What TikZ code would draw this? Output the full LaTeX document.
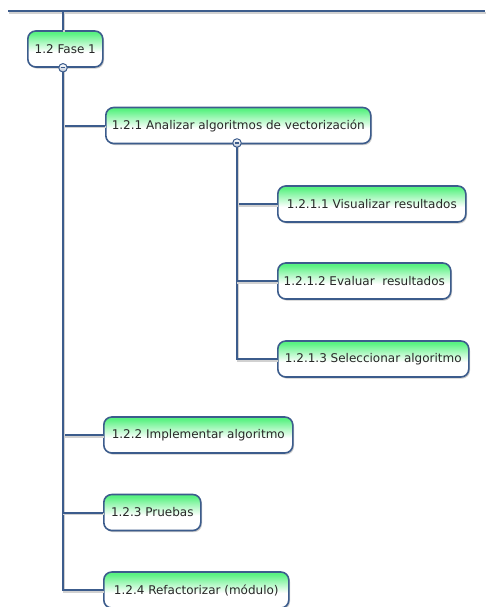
\documentclass[tikz,border=0pt]{standalone}
\usepackage{fontspec}
\setmainfont{DejaVu Sans}
\usetikzlibrary{shadows}
\definecolor{lineblue}{RGB}{60,92,140}
\definecolor{boxgreen}{RGB}{90,242,130}
\definecolor{txt}{RGB}{40,40,40}
\pgfdeclareverticalshading{boxshade}{100bp}{color(0bp)=(white); color(25bp)=(white); color(46bp)=(white); color(72bp)=(boxgreen); color(100bp)=(boxgreen)}
\tikzset{
  wbs/.style={draw=lineblue, line width=1.6pt, rounded corners=8pt, shading=boxshade,
    minimum height=36pt, anchor=west, inner xsep=0pt, font=\fontsize{12}{14}\selectfont, text=txt,
    drop shadow={shadow xshift=1.2pt, shadow yshift=-1.6pt, fill=black!35, opacity=0.6}},
  conn/.style={draw=lineblue, line width=2pt,
    preaction={draw=black!18, line width=2pt, transform canvas={shift={(1pt,-1.8pt)}}}},
  collapse/.style={circle, draw=lineblue, line width=1pt, inner sep=0pt, minimum size=8.5pt,
    top color=white, bottom color=lineblue!35},
}
\begin{document}
\begin{tikzpicture}[x=1pt,y=1pt]
\useasboundingbox (0,0) rectangle (485,-607);
\coordinate (tl) at (8,-11);
\coordinate (tr) at (485,-11);
\coordinate (tj) at (63,-11);
\draw[conn] (tl) -- (tr);
% nodes
\node[wbs, minimum width=75pt] (n12) at (27,-49) {1.2 Fase 1};
\draw[conn] (tj) -- (n12.north -| tj);
\node[wbs, minimum width=265pt] (n121) at (105,-125.5) {1.2.1 Analizar algoritmos de vectorización};
\node[wbs, minimum width=188pt] (n1211) at (277,-204) {1.2.1.1 Visualizar resultados};
\node[wbs, minimum width=173pt] (n1212) at (277,-281) {1.2.1.2 Evaluar\ \ resultados};
\node[wbs, minimum width=191pt] (n1213) at (277,-359) {1.2.1.3 Seleccionar algoritmo};
\node[wbs, minimum width=189pt] (n122) at (103,-435) {1.2.2 Implementar algoritmo};
\node[wbs, minimum width=97pt] (n123) at (103,-512.5) {1.2.3 Pruebas};
\node[wbs, minimum width=185pt] (n124) at (103,-590) {1.2.4 Refactorizar (módulo)};
% connectors
\coordinate (t1) at (n12.south -| tj);
\coordinate (t2) at (237,-143);
\draw[conn] (t1) |- (n124.west);
\draw[conn] (t1) |- (n121.west);
\draw[conn] (t1) |- (n122.west);
\draw[conn] (t1) |- (n123.west);
\draw[conn] (t2) |- (n1213.west);
\draw[conn] (t2) |- (n1211.west);
\draw[conn] (t2) |- (n1212.west);
% collapse markers
\node[collapse] (k1) at (t1) {};
\draw[lineblue, line width=1.1pt] ([xshift=-2.3pt]k1.center) -- ([xshift=2.3pt]k1.center);
\node[collapse] (k2) at (t2) {};
\draw[lineblue, line width=1.1pt] ([xshift=-2.3pt]k2.center) -- ([xshift=2.3pt]k2.center);
\end{tikzpicture}
\end{document}
